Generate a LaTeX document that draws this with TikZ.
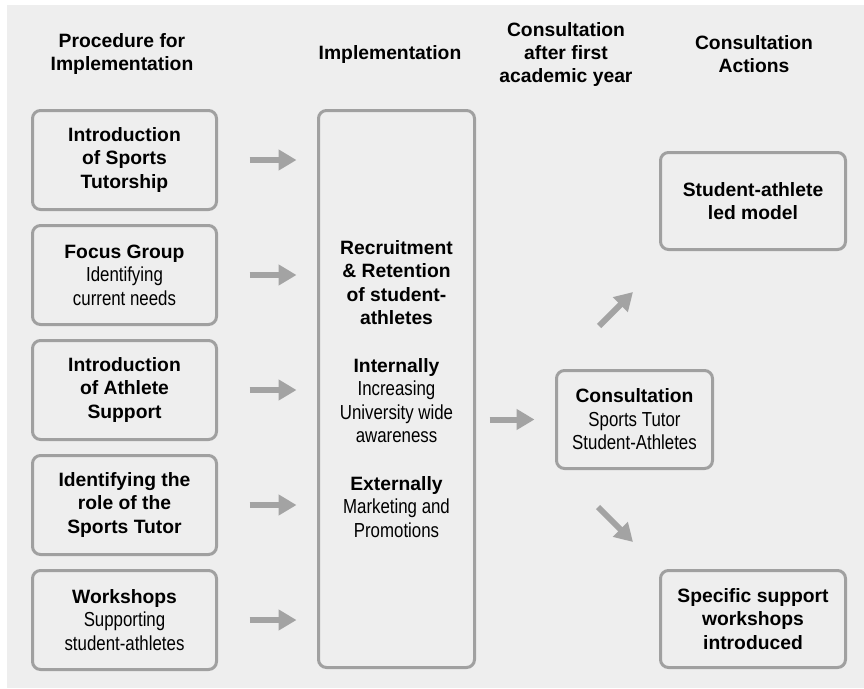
\documentclass[tikz,border=0pt]{standalone}
\usepackage{fontspec}
\setmainfont{Liberation Sans}
\newfontfamily\narrowfont{Liberation Sans}[FakeStretch=0.83]
\usetikzlibrary{arrows.meta,calc}
\definecolor{bggrey}{RGB}{238,238,238}
\definecolor{edgegrey}{RGB}{160,160,160}
\definecolor{arrowgrey}{RGB}{163,163,163}
\newcommand{\rg}[1]{{\mdseries\narrowfont\fontsize{20.3}{23.5}\selectfont #1}}
\tikzset{
  box/.style={draw=edgegrey, line width=3pt, rounded corners=8pt, fill=bggrey,
    align=center, inner sep=0pt, font=\fontsize{19.3}{23.5}\selectfont\bfseries},
  leftbox/.style={box, minimum width=184pt, minimum height=99pt},
  head/.style={align=center, inner sep=0pt, font=\fontsize{19.3}{23}\selectfont\bfseries},
  fat/.style={draw=arrowgrey, line width=6pt, -{Triangle[length=18pt,width=20pt]}}
}
\begin{document}
\begin{tikzpicture}[x=1pt,y=-1pt]
\useasboundingbox (0,0) rectangle (864,688);
\fill[bggrey] (7,5) rectangle (864,688);
% column headings
\node[head] (hproc) at (122,54.5) {Procedure for\\Implementation};
\node[head] (himpl) at (390,54.5) {Implementation};
\node[head] (hcons) at (566,54.5) {Consultation\\after first\\academic year};
\node[head] (hact) at (754,54.5) {Consultation\\Actions};
% procedure boxes
\node[leftbox] (p1) at (124.5,160) {Introduction\\of Sports\\Tutorship};
\node[leftbox] (p2) at (124.5,275) {Focus Group\\\rg{Identifying}\\\rg{current needs}};
\node[leftbox] (p3) at (124.5,390) {Introduction\\of Athlete\\Support};
\node[leftbox] (p4) at (124.5,505) {Identifying the\\role of the\\Sports Tutor};
\node[leftbox] (p5) at (124.5,620) {Workshops\\\rg{Supporting}\\\rg{student-athletes}};
% implementation
\node[box, minimum width=156pt, minimum height=557pt] (impl) at (396.5,389)
  {Recruitment\\\& Retention\\of student-\\athletes\\[24pt]
   Internally\\\rg{Increasing}\\\rg{University wide}\\\rg{awareness}\\[24pt]
   Externally\\\rg{Marketing and}\\\rg{Promotions}};
% consultation and actions
\node[box, minimum width=156pt, minimum height=98pt] (cons) at (634.5,419.5)
  {Consultation\\\rg{Sports Tutor}\\\rg{Student-Athletes}};
\node[box, minimum width=185pt, minimum height=97pt] (model) at (753,201)
  {Student-athlete\\led model};
\node[box, minimum width=185pt, minimum height=97pt] (shops) at (753,619)
  {Specific support\\workshops\\introduced};
% arrows
\draw[fat] ($(p1.east)+(31.5,0)$) -- ($(p1.east -| impl.west)+(-20.5,0)$);
\draw[fat] ($(p2.east)+(31.5,0)$) -- ($(p2.east -| impl.west)+(-20.5,0)$);
\draw[fat] ($(p3.east)+(31.5,0)$) -- ($(p3.east -| impl.west)+(-20.5,0)$);
\draw[fat] ($(p4.east)+(31.5,0)$) -- ($(p4.east -| impl.west)+(-20.5,0)$);
\draw[fat] ($(p5.east)+(31.5,0)$) -- ($(p5.east -| impl.west)+(-20.5,0)$);
\draw[fat] ($(cons.west -| impl.east)+(13.5,0)$) -- ($(cons.west)+(-20.5,0)$);
\coordinate (upfrom) at (599,326);
\coordinate (upto) at (633,292);
\coordinate (downfrom) at (598,507);
\coordinate (downto) at (633,542);
\draw[fat] (upfrom) -- (upto);
\draw[fat] (downfrom) -- (downto);
\end{tikzpicture}
\end{document}
